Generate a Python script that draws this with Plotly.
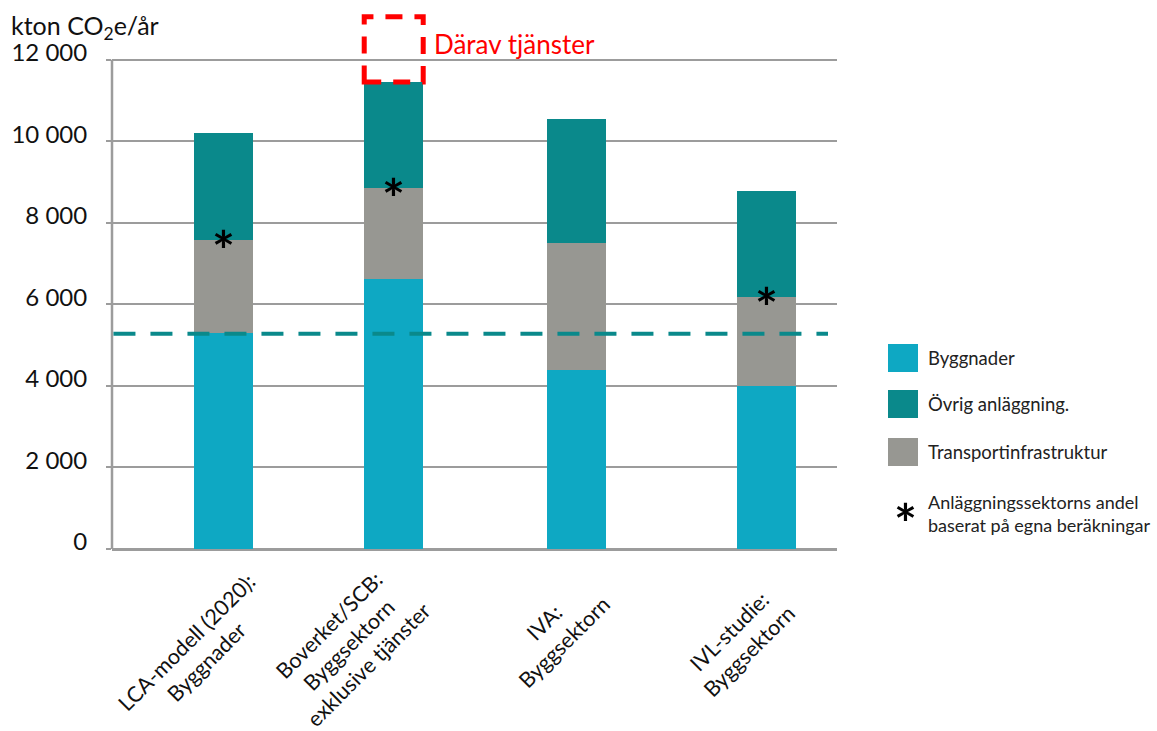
import plotly.graph_objects as go

# --- data -------------------------------------------------------------
categories = [
    "LCA-modell (2020):<br>Byggnader",
    "Boverket/SCB:<br>Byggsektorn<br>exklusive tjänster",
    "IVA:<br>Byggsektorn",
    "IVL-studie:<br>Byggsektorn",
]
byggnader = [5300, 6630, 4380, 3990]          # kton CO2e/år
transportinfrastruktur = [2290, 2230, 3120, 2200]
ovrig_anlaggning = [2600, 2590, 3050, 2600]
tjanster_boverket = 1600                      # services, Boverket/SCB only
egna_berakningar = [True, True, False, True]  # share estimated in-house
referensniva = 5280                           # dashed reference line
y_ticks = [0, 2000, 4000, 6000, 8000, 10000, 12000]

# --- styling / layout constants ---------------------------------------
slot_x = [0.0, 0.94, 1.95, 3.0]
bar_w = 0.326
C_BYGG = "#0ea8c3"
C_OVRIG = "#0a898b"
C_TRANSP = "#979792"
C_GRID = "#9c9c9c"
FONT = "Lato"

W, H = 1157, 731
M_L, M_R, M_T, M_B = 112, 320, 14, 182
PW, PH = W - M_L - M_R, H - M_T - M_B


def px_x(px):
    return (px - M_L) / PW


def px_y(py):
    return (H - M_B - py) / PH


fig = go.Figure()
for name, vals, col in [
    ("Byggnader", byggnader, C_BYGG),
    ("Transportinfrastruktur", transportinfrastruktur, C_TRANSP),
    ("Övrig anläggning.", ovrig_anlaggning, C_OVRIG),
]:
    fig.add_trace(go.Bar(x=slot_x, y=vals, width=bar_w, name=name,
                         marker=dict(color=col, line=dict(width=0)),
                         showlegend=False, hoverinfo="skip"))

totals = [b + t + o for b, t, o in zip(byggnader, transportinfrastruktur, ovrig_anlaggning)]
annotations = []
shapes = []

STAR_FONT = dict(family=FONT, size=54, color="black", weight="bold")
STAR_SHIFT = -10

# asterisks on the boundary between transport and other construction
for xs, b, t, flag in zip(slot_x, byggnader, transportinfrastruktur, egna_berakningar):
    if flag:
        annotations.append(dict(x=xs, y=b + t, xref="x", yref="y", text="*",
                                showarrow=False, yshift=STAR_SHIFT,
                                xanchor="center", yanchor="middle", font=STAR_FONT))

# category labels, rotated
label_shift = [(-27, 652), (-45, 645), (-22, 632), (-27, 641)]
for xs, lab, (dx, cy) in zip(slot_x, categories, label_shift):
    annotations.append(dict(x=xs, y=px_y(cy), xref="x", yref="paper", text=lab,
                            showarrow=False, textangle=-45, xshift=dx,
                            xanchor="center", yanchor="middle", align="center",
                            font=dict(family=FONT, size=21.5, color="#111")))

# dashed box for services on top of Boverket/SCB
shapes.append(dict(type="rect", xref="x", yref="y", layer="above",
                   x0=slot_x[1] - bar_w / 2, x1=slot_x[1] + bar_w / 2,
                   y0=totals[1], y1=totals[1] + tjanster_boverket,
                   line=dict(color="#ff0000", width=5, dash="17px,12px")))
annotations.append(dict(x=px_x(432), y=px_y(44), xref="paper", yref="paper",
                        text="Därav tjänster", showarrow=False,
                        xanchor="left", yanchor="middle",
                        font=dict(family=FONT, size=26, color="#ff0000")))

# reference level
shapes.append(dict(type="line", xref="paper", yref="y", layer="above",
                   x0=0.002, x1=px_x(828), y0=referensniva, y1=referensniva,
                   line=dict(color=C_OVRIG, width=4, dash="22px,15px")))

# y axis line up to the top gridline
shapes.append(dict(type="line", xref="paper", yref="y", layer="below",
                   x0=0, x1=0, y0=0, y1=y_ticks[-1],
                   line=dict(color=C_GRID, width=2.5)))

# axis title
annotations.append(dict(x=px_x(9), y=px_y(27), xref="paper", yref="paper",
                        text="kton CO<sub>2</sub>e/år", showarrow=False,
                        xanchor="left", yanchor="middle",
                        font=dict(family=FONT, size=25, color="#111")))

# legend
LEG_FONT = dict(family=FONT, size=18.5, color="#222")
legend_items = [("Byggnader", C_BYGG, 358), ("Övrig anläggning.", C_OVRIG, 404),
                ("Transportinfrastruktur", C_TRANSP, 452)]
for txt, col, cy in legend_items:
    shapes.append(dict(type="rect", xref="paper", yref="paper",
                       x0=px_x(888), x1=px_x(918), y0=px_y(cy + 14), y1=px_y(cy - 14),
                       fillcolor=col, line=dict(width=0)))
    annotations.append(dict(x=px_x(926), y=px_y(cy), xref="paper", yref="paper",
                            text=txt, showarrow=False, xanchor="left", yanchor="middle",
                            font=LEG_FONT))
annotations.append(dict(x=px_x(905), y=px_y(512), xref="paper", yref="paper",
                        text="*", showarrow=False, yshift=STAR_SHIFT,
                        xanchor="center", yanchor="middle", font=STAR_FONT))
annotations.append(dict(x=px_x(926), y=px_y(513), xref="paper", yref="paper",
                        text="Anläggningssektorns andel<br>baserat på egna beräkningar",
                        showarrow=False, xanchor="left", yanchor="middle", align="left",
                        font=dict(family=FONT, size=18, color="#222")))

fig.update_layout(
    width=W, height=H, barmode="stack", bargap=0,
    margin=dict(l=M_L, r=M_R, t=M_T, b=M_B, autoexpand=False),
    paper_bgcolor="white", plot_bgcolor="white",
    separators=", ",
    font=dict(family=FONT, color="#111"),
    shapes=shapes, annotations=annotations,
    xaxis=dict(range=[-0.617, 3.39], showticklabels=False, showgrid=False,
               zeroline=False, showline=False, fixedrange=True),
    yaxis=dict(range=[0, 13120], tickvals=y_ticks, tickformat=",d",
               showgrid=True, gridcolor=C_GRID, gridwidth=2,
               zeroline=True, zerolinecolor=C_GRID, zerolinewidth=3,
               showline=False, ticks="outside", ticklen=5, tickcolor=C_GRID,
               tickwidth=2, ticklabelshift=-7, ticklabelstandoff=14,
               tickfont=dict(family=FONT, size=24, color="#111")),
)

fig.write_html("out.html")
